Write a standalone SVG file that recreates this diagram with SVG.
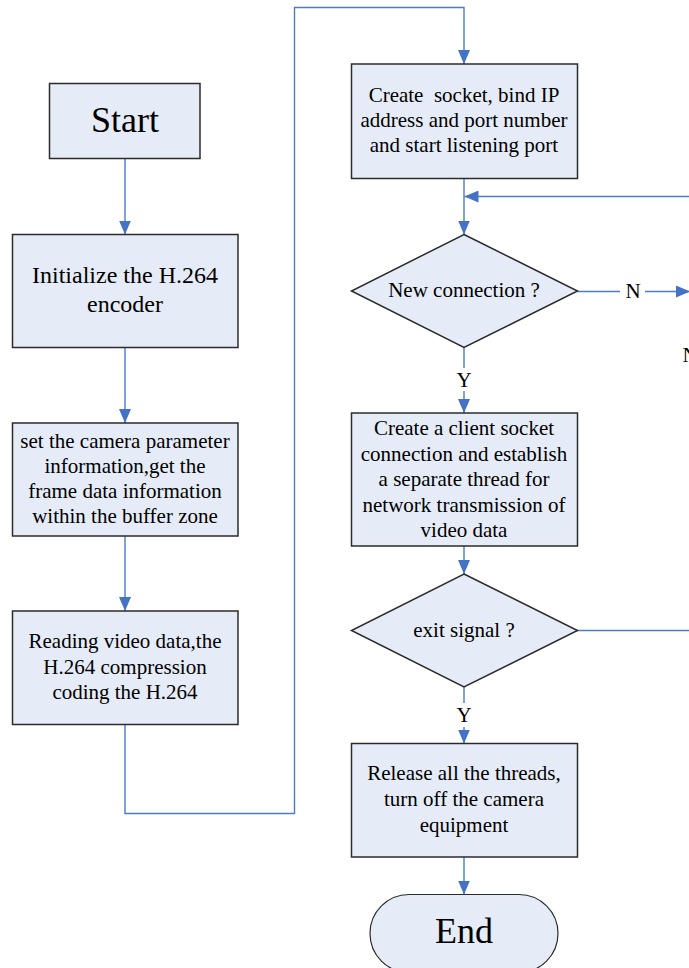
<svg xmlns="http://www.w3.org/2000/svg" width="689" height="968" viewBox="0 0 689 968">
<defs>
<style>
.box{fill:#E6ECF7;stroke:#2b2b2b;stroke-width:1.5}
.ln{fill:none;stroke:#4A7CC8;stroke-width:1.4}
text{font-family:"Liberation Serif","Times New Roman",serif;fill:#000;text-anchor:middle}
.t21{font-size:21px}
.t24{font-size:24px}
.t36{font-size:36px}
</style>
<marker id="ah" markerWidth="14" markerHeight="12" refX="14" refY="6" orient="auto" markerUnits="userSpaceOnUse">
<path d="M0,0 L14,6 L0,12 Z" fill="#4472C4"/>
</marker>
</defs>
<rect width="689" height="968" fill="#fff"/>
<g id="connectors">
<line class="ln" x1="125" y1="158.5" x2="125" y2="234.5" marker-end="url(#ah)"/>
<line class="ln" x1="125" y1="347.5" x2="125" y2="423" marker-end="url(#ah)"/>
<line class="ln" x1="125" y1="536" x2="125" y2="611" marker-end="url(#ah)"/>
<polyline class="ln" points="125,724.5 125,813.5 294.5,813.5 294.5,7.5 464,7.5 464,64" marker-end="url(#ah)"/>
<line class="ln" x1="464" y1="178.5" x2="464" y2="234.5" marker-end="url(#ah)"/>
<line class="ln" x1="689" y1="196.5" x2="464.5" y2="196.5" marker-end="url(#ah)"/>
<line class="ln" x1="464" y1="347.5" x2="464" y2="368"/>
<line class="ln" x1="464" y1="391" x2="464" y2="413" marker-end="url(#ah)"/>
<line class="ln" x1="577.5" y1="291.5" x2="620" y2="291.5"/>
<line class="ln" x1="645" y1="291.5" x2="690" y2="291.5" marker-end="url(#ah)"/>
<line class="ln" x1="464" y1="546" x2="464" y2="574" marker-end="url(#ah)"/>
<line class="ln" x1="577.5" y1="630.5" x2="689" y2="630.5"/>
<line class="ln" x1="464" y1="687" x2="464" y2="703"/>
<line class="ln" x1="464" y1="727" x2="464" y2="743.5" marker-end="url(#ah)"/>
<line class="ln" x1="464" y1="857" x2="464" y2="894.5" marker-end="url(#ah)"/>
<text class="t21" x="633" y="298">N</text>
<text class="t21" x="464" y="387">Y</text>
<text class="t21" x="464" y="722">Y</text>
<text class="t21" x="690" y="362">N</text>
</g>
<g id="start">
<rect class="box" x="49.5" y="83.5" width="150.5" height="75"/>
<text class="t36" x="125" y="132">Start</text>
</g>
<g id="init">
<rect class="box" x="12.5" y="234.5" width="225.5" height="113"/>
<text class="t24" x="125" y="283">Initialize the H.264</text>
<text class="t24" x="125" y="312">encoder</text>
</g>
<g id="camera">
<rect class="box" x="12.5" y="423" width="225.5" height="113"/>
<text class="t21" x="125" y="448">set the camera parameter</text>
<text class="t21" x="125" y="473">information,get the</text>
<text class="t21" x="125" y="498">frame data information</text>
<text class="t21" x="125" y="523">within the buffer zone</text>
</g>
<g id="reading">
<rect class="box" x="12.5" y="611" width="225.5" height="113.5"/>
<text class="t21" x="125" y="648">Reading video data,the</text>
<text class="t21" x="125" y="674">H.264 compression</text>
<text class="t21" x="125" y="699">coding the H.264</text>
</g>
<g id="socket">
<rect class="box" x="351.5" y="64" width="226" height="114.5"/>
<text class="t21" x="464" y="102" xml:space="preserve">Create  socket, bind IP</text>
<text class="t21" x="464" y="127">address and port number</text>
<text class="t21" x="464" y="152">and start listening port</text>
</g>
<g id="newconn">
<polygon class="box" points="464,234.5 577.5,291 464,347.5 351.5,291"/>
<text class="t21" x="464" y="297">New connection ?</text>
</g>
<g id="client">
<rect class="box" x="351.5" y="413" width="226" height="133"/>
<text class="t21" x="464" y="435">Create a client socket</text>
<text class="t21" x="464" y="461">connection and establish</text>
<text class="t21" x="464" y="486">a separate thread for</text>
<text class="t21" x="464" y="512">network transmission of</text>
<text class="t21" x="464" y="537">video data</text>
</g>
<g id="exit">
<polygon class="box" points="464,574 577.5,630.5 464,687 351.5,630.5"/>
<text class="t21" x="464" y="637">exit signal ?</text>
</g>
<g id="release">
<rect class="box" x="351.5" y="743.5" width="226" height="113.5"/>
<text class="t21" x="464" y="780">Release all the threads,</text>
<text class="t21" x="464" y="806">turn off the camera</text>
<text class="t21" x="464" y="832">equipment</text>
</g>
<g id="end">
<rect x="370" y="894.5" width="188" height="78" rx="39" ry="39" fill="#E6ECF7" stroke="#2b2b2b" stroke-width="1.2"/>
<text class="t36" x="464" y="943">End</text>
</g>
</svg>
